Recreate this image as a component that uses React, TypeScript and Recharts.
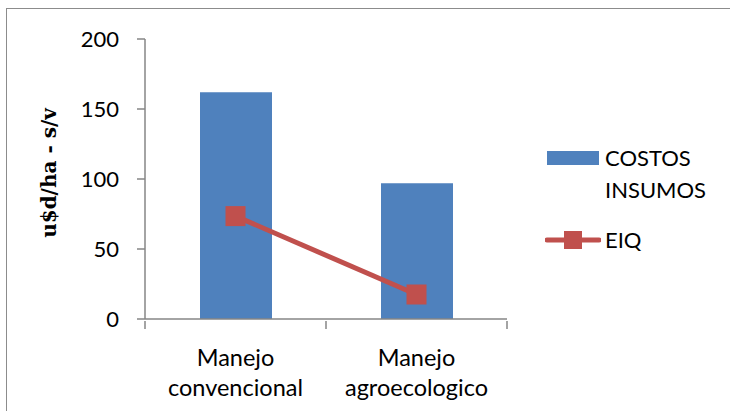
import React from "react";
import { ComposedChart, Bar, Line, XAxis, YAxis, Legend } from "recharts";

const categories = ["Manejo convencional", "Manejo agroecologico"];
const costosInsumos = [162, 97];
const eiq = [73.5, 17.5];
const yTicks = [0, 50, 100, 150, 200];

const data = categories.map((c, i) => ({ name: c, costos: costosInsumos[i], eiq: eiq[i] }));

const BLUE = "#4F81BD";
const RED = "#C0504D";
const AXIS = "#868686";
const FONT = "Lato, 'Open Sans', sans-serif";

const XTick = (props: any) => {
  const { x, y, payload, index, width } = props;
  const w = typeof width === "number" ? width : 362;
  const half = w / (2 * categories.length);
  const words = String(payload.value).split(" ");
  const axisY = y - 8;
  return (
    <g>
      <line x1={x - half} x2={x - half} y1={axisY} y2={axisY + 8} stroke={AXIS} strokeWidth={1.5} />
      {index === categories.length - 1 && (
        <line x1={x + half} x2={x + half} y1={axisY} y2={axisY + 8} stroke={AXIS} strokeWidth={1.5} />
      )}
      <text x={x} y={y + 28} textAnchor="middle" dominantBaseline="central" fontFamily={FONT} fontSize={23.5} fill="#000">
        {words[0]}
      </text>
      <text x={x} y={y + 58} textAnchor="middle" dominantBaseline="central" fontFamily={FONT} fontSize={23.5} fill="#000">
        {words.slice(1).join(" ")}
      </text>
    </g>
  );
};

const SquareDot = (props: any) => {
  const { cx, cy } = props;
  if (cx == null || cy == null) return null;
  return <rect x={cx - 10} y={cy - 10} width={20} height={20} fill={RED} />;
};

const LegendContent = (props: any) => {
  const payload = props.payload || [];
  return (
    <div style={{ fontFamily: FONT, fontSize: 22, color: "#000" }}>
      {payload.map((p: any, i: number) => {
        const isBar = p.type === "rect" || p.dataKey === "costos";
        return (
          <div key={i} style={{ display: "flex", alignItems: "flex-start", marginBottom: i === 0 ? 18 : 0 }}>
            <svg width={56} height={32} style={{ flex: "none" }}>
              {isBar ? (
                <rect x={2} y={9} width={52} height={14} fill={BLUE} />
              ) : (
                <g>
                  <line x1={2} x2={54} y1={16} y2={16} stroke={RED} strokeWidth={5} strokeLinecap="round" />
                  <rect x={19} y={7} width={18} height={18} fill={RED} />
                </g>
              )}
            </svg>
            <div style={{ marginLeft: 4, lineHeight: "32px", width: 110 }}>{p.value}</div>
          </div>
        );
      })}
    </div>
  );
};

export default function App() {
  return (
    <div style={{ position: "absolute", left: 0, top: 0, width: 730, height: 411, background: "#fff", overflow: "hidden" }}>
      <div
        style={{
          position: "absolute",
          left: 6,
          top: 8,
          width: 730,
          height: 411,
          borderTop: "1.5px solid #8c8c8c",
          borderLeft: "1.5px solid #8c8c8c",
        }}
      />
      <div style={{ position: "absolute", left: 0, top: 0 }}>
        <ComposedChart width={730} height={411} data={data} margin={{ top: 39, right: 223, bottom: 0, left: 0 }}>
          <XAxis
            dataKey="name"
            height={92}
            axisLine={{ stroke: AXIS, strokeWidth: 1.5 }}
            tickLine={false}
            tickSize={8}
            tick={<XTick />}
            interval={0}
          />
          <YAxis
            width={145}
            domain={[0, 200]}
            ticks={yTicks}
            axisLine={{ stroke: AXIS, strokeWidth: 1.5 }}
            tickLine={{ stroke: AXIS, strokeWidth: 1.5 }}
            tickSize={8}
            tickMargin={18}
            tick={{ fontFamily: FONT, fontSize: 22, fill: "#000" }}
            label={{
              content: () => (
                <text
                  x={49}
                  y={173}
                  transform="rotate(-90 49 173)"
                  textAnchor="middle"
                  dominantBaseline="central"
                  fontFamily="'DejaVu Serif', serif"
                  fontWeight="bold"
                  fontSize={20}
                  fill="#000"
                >
                  u$d/ha - s/v
                </text>
              ),
            }}
          />
          <Bar dataKey="costos" name="COSTOS INSUMOS" fill={BLUE} barSize={72} isAnimationActive={false} />
          <Line
            dataKey="eiq"
            name="EIQ"
            stroke={RED}
            strokeWidth={5}
            dot={<SquareDot />}
            activeDot={false}
            isAnimationActive={false}
          />
          <Legend
            layout="horizontal"
            verticalAlign="middle"
            align="center"
            content={<LegendContent />}
            wrapperStyle={{ left: 545, top: 142, width: 185, right: "auto", bottom: "auto" }}
          />
        </ComposedChart>
      </div>
    </div>
  );
}
